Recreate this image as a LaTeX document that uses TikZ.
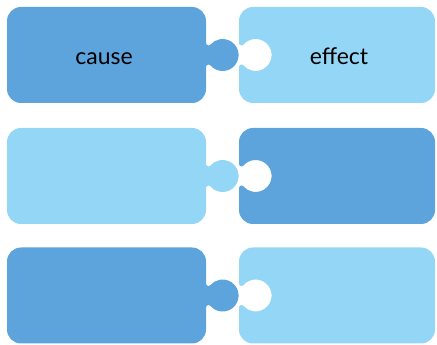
\documentclass[tikz,border=0pt]{standalone}
\usepackage{fontspec}
\setmainfont{Lato}
\definecolor{pdark}{RGB}{93,163,220}
\definecolor{plight}{RGB}{148,214,246}
\tikzset{
  lbl/.style={font=\fontsize{23}{27}\selectfont, text=black, anchor=base, inner sep=0pt},
}
% left piece with knob: #1 colour, #2 centre y
\newcommand{\leftpiece}[2]{%
  \fill[#1] (21,#2-48) -- (192,#2-48) arc[start angle=-90,end angle=0,radius=14]
    -- (206,#2-12) arc[start angle=180,end angle=40.4,radius=2.5]
    arc[start angle=-139.6,end angle=139.6,radius=16]
    arc[start angle=-40.4,end angle=-180,radius=2.5]
    -- (206,#2+34) arc[start angle=0,end angle=90,radius=14]
    -- (21,#2+48) arc[start angle=90,end angle=180,radius=14]
    -- (7,#2-34) arc[start angle=180,end angle=270,radius=14] -- cycle;}
% right piece with hole
\newcommand{\rightpiece}[2]{%
  \fill[#1] (253,#2-48) -- (421,#2-48) arc[start angle=-90,end angle=0,radius=14]
    -- (435,#2+34) arc[start angle=0,end angle=90,radius=14]
    -- (253,#2+48) arc[start angle=90,end angle=180,radius=14]
    -- (239,#2+12) arc[start angle=180,end angle=319.6,radius=2.5]
    arc[start angle=139.6,end angle=-139.6,radius=16]
    arc[start angle=40.4,end angle=180,radius=2.5]
    -- (239,#2-34) arc[start angle=180,end angle=270,radius=14] -- cycle;}
\begin{document}
\begin{tikzpicture}[x=1pt,y=1pt]
\useasboundingbox (0,0) rectangle (437,345);
\leftpiece{pdark}{290}
\rightpiece{plight}{290}
\leftpiece{plight}{169}
\rightpiece{pdark}{169}
\leftpiece{pdark}{49.5}
\rightpiece{plight}{49.5}
\node[lbl] (cause) at (104,280) {cause};
\node[lbl] (effect) at (339,280) {effect};
\end{tikzpicture}
\end{document}
